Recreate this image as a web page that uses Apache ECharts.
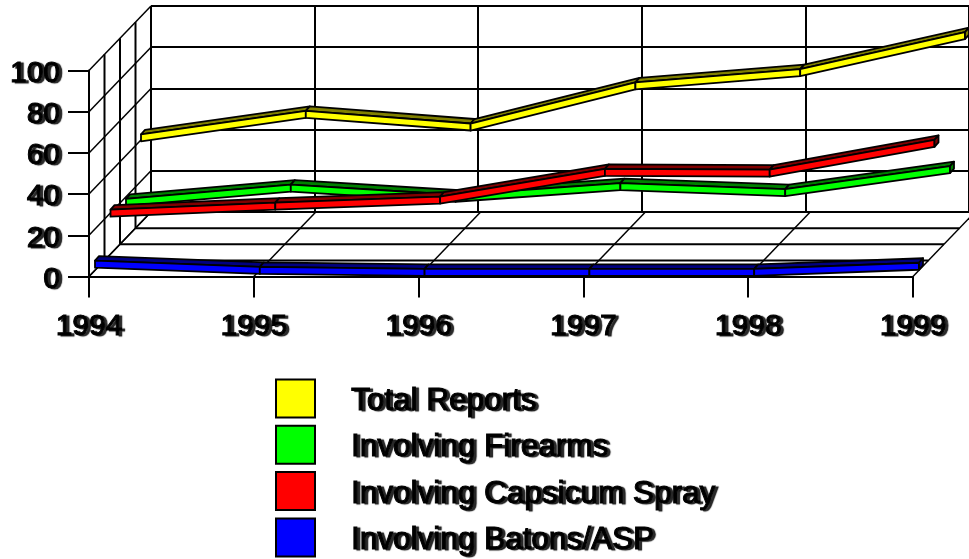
<!DOCTYPE html>
<html>
<head>
<meta charset="utf-8">
<style>
  html, body { margin: 0; padding: 0; background: #fff; }
  #main { width: 969px; height: 559px; }
</style>
</head>
<body>
<div id="main"></div>
<script src="https://cdn.jsdelivr.net/npm/echarts@6/dist/echarts.min.js"></script>
<script>
var years = ["1994", "1995", "1996", "1997", "1998", "1999"];
var yTicks = [0, 20, 40, 60, 80, 100];
var totalReports = [43, 54.4, 48.3, 68.3, 74.7, 92.7];
var firearms = [19, 25.9, 21, 26.6, 23.7, 34.9];
var capsicum = [21.5, 24.9, 27.9, 41.3, 41, 55.4];
var batons = [5, 2, 1, 1, 1, 4];

var myChart = echarts.init(document.getElementById("main"));

// fake 3d: the back wall sits this far from the front plane, in px
var depthX = 62;
var depthY = -64.5;
var font = "Liberation Sans";

function line(x1, y1, x2, y2, width) {
  return {
    type: "line",
    shape: { x1: x1, y1: y1, x2: x2, y2: y2 },
    style: { stroke: "#000", lineWidth: width || 1.5 },
  };
}

// side wall and floor lines, all hung on the front axes
function renderFrame(params, api) {
  var children = [];
  yTicks.forEach(function (v) {
    var p = api.coord([0, v]);
    children.push(line(p[0], p[1], p[0] + depthX, p[1] + depthY));
  });
  years.forEach(function (y, i) {
    var p = api.coord([i, 0]);
    children.push(line(p[0], p[1], p[0] + depthX, p[1] + depthY));
  });
  var floorL = api.coord([0, 0]);
  var floorR = api.coord([years.length - 1, 0]);
  var topL = api.coord([0, 100]);
  [0.25, 0.5, 0.75].forEach(function (f) {
    var dx = depthX * f;
    var dy = depthY * f;
    children.push(line(floorL[0] + dx, floorL[1] + dy, floorR[0] + dx, floorR[1] + dy, 2));
    children.push(line(floorL[0] + dx, floorL[1] + dy, topL[0] + dx, topL[1] + dy, 2));
  });
  return { type: "group", children: children };
}

function ribbon(name, values, color, dark, offX, offY) {
  var halfH = 3.5;
  var topX = 4;
  var topY = -4.5;
  return {
    name: name,
    type: "custom",
    xAxisIndex: 0,
    yAxisIndex: 0,
    silent: true,
    itemStyle: { color: color },
    data: values.map(function (v, i) {
      return [i, v];
    }),
    renderItem: function (params, api) {
      var i = params.dataIndexInside;
      var a = api.coord([api.value(0), api.value(1)]);
      var ax = a[0] + offX;
      var ay = a[1] - offY;
      var edge = { stroke: "#000", lineWidth: 1.8, lineJoin: "round" };
      if (i === values.length - 1) {
        // end cap of the ribbon
        return {
          type: "polygon",
          shape: {
            points: [
              [ax, ay - halfH],
              [ax + topX, ay - halfH + topY],
              [ax + topX, ay + halfH + topY],
              [ax, ay + halfH],
            ],
          },
          style: Object.assign({ fill: dark }, edge),
        };
      }
      var b = api.coord([api.value(0) + 1, api.value(1, i + 1)]);
      var bx = b[0] + offX;
      var by = b[1] - offY;
      return {
        type: "group",
        children: [
          {
            type: "polygon",
            shape: {
              points: [
                [ax, ay - halfH],
                [ax + topX, ay - halfH + topY],
                [bx + topX, by - halfH + topY],
                [bx, by - halfH],
              ],
            },
            style: Object.assign({ fill: dark }, edge),
          },
          {
            type: "polygon",
            shape: {
              points: [
                [ax, ay - halfH],
                [bx, by - halfH],
                [bx, by + halfH],
                [ax, ay + halfH],
              ],
            },
            style: Object.assign({ fill: color }, edge),
          },
        ],
      };
    },
  };
}

var labelStyle = {
  color: "#000",
  fontFamily: font,
  fontSize: 30,
  textBorderColor: "#000",
  textBorderWidth: 1,
  textShadowColor: "rgba(0,0,0,0.85)",
  textShadowOffsetX: 3,
  textShadowOffsetY: 1,
  textShadowBlur: 1,
};
var axisLineStyle = { color: "#000", width: 2 };

option = {
  backgroundColor: "#fff",
  animation: false,
  grid: [
    { left: 89, top: 70.5, width: 824, height: 206 },
    { left: 151, top: 6, width: 822, height: 206 },
  ],
  legend: {
    orient: "vertical",
    left: 275,
    top: 378.5,
    height: 180,
    padding: 0,
    icon: "rect",
    itemWidth: 39,
    itemHeight: 38,
    itemGap: 6.3,
    selectedMode: false,
    data: ["Total Reports", "Involving Firearms", "Involving Capsicum Spray", "Involving Batons/ASP"],
    itemStyle: { borderColor: "#000", borderWidth: 2 },
    formatter: "{a|{name}}",
    textStyle: {
      rich: { a: Object.assign({}, labelStyle, { fontSize: 31.5, padding: [6, 0, 0, 31] }) },
    },
  },
  xAxis: [
    {
      type: "category",
      gridIndex: 0,
      boundaryGap: false,
      data: years,
      axisLine: { lineStyle: axisLineStyle },
      axisTick: { length: 21, lineStyle: axisLineStyle },
      axisLabel: Object.assign({ interval: 0, margin: 35 }, labelStyle),
      splitLine: { show: false },
    },
    {
      type: "category",
      gridIndex: 1,
      boundaryGap: false,
      data: years,
      axisLine: { show: false },
      axisTick: { show: false },
      axisLabel: { show: false },
      splitLine: { show: true, interval: 0, showMinLine: true, showMaxLine: true, lineStyle: axisLineStyle },
    },
  ],
  yAxis: [
    {
      type: "value",
      gridIndex: 0,
      min: 0,
      max: 100,
      interval: 20,
      axisLine: { show: true, lineStyle: axisLineStyle },
      axisTick: { show: true, length: 21, lineStyle: axisLineStyle },
      axisLabel: {
        margin: 29,
        formatter: "{a|{value}}",
        rich: { a: Object.assign({}, labelStyle, { padding: [6, 0, 0, 0] }) },
      },
      splitLine: { show: false },
    },
    {
      type: "value",
      gridIndex: 1,
      min: 0,
      max: 100,
      interval: 20,
      axisLine: { show: false },
      axisTick: { show: false },
      axisLabel: { show: false },
      splitLine: { show: true, lineStyle: axisLineStyle },
    },
  ],
  series: [
    {
      type: "custom",
      name: "frame",
      silent: true,
      xAxisIndex: 0,
      yAxisIndex: 0,
      data: [[0, 0]],
      renderItem: renderFrame,
    },
    ribbon("Total Reports", totalReports, "#ffff00", "#808000", 52, 50),
    ribbon("Involving Firearms", firearms, "#00ff00", "#008000", 37, 35),
    ribbon("Involving Capsicum Spray", capsicum, "#ff0000", "#800000", 21.5, 19),
    ribbon("Involving Batons/ASP", batons, "#0000ff", "#000080", 6, 2),
  ],
};
myChart.setOption(option);
</script>
</body>
</html>
